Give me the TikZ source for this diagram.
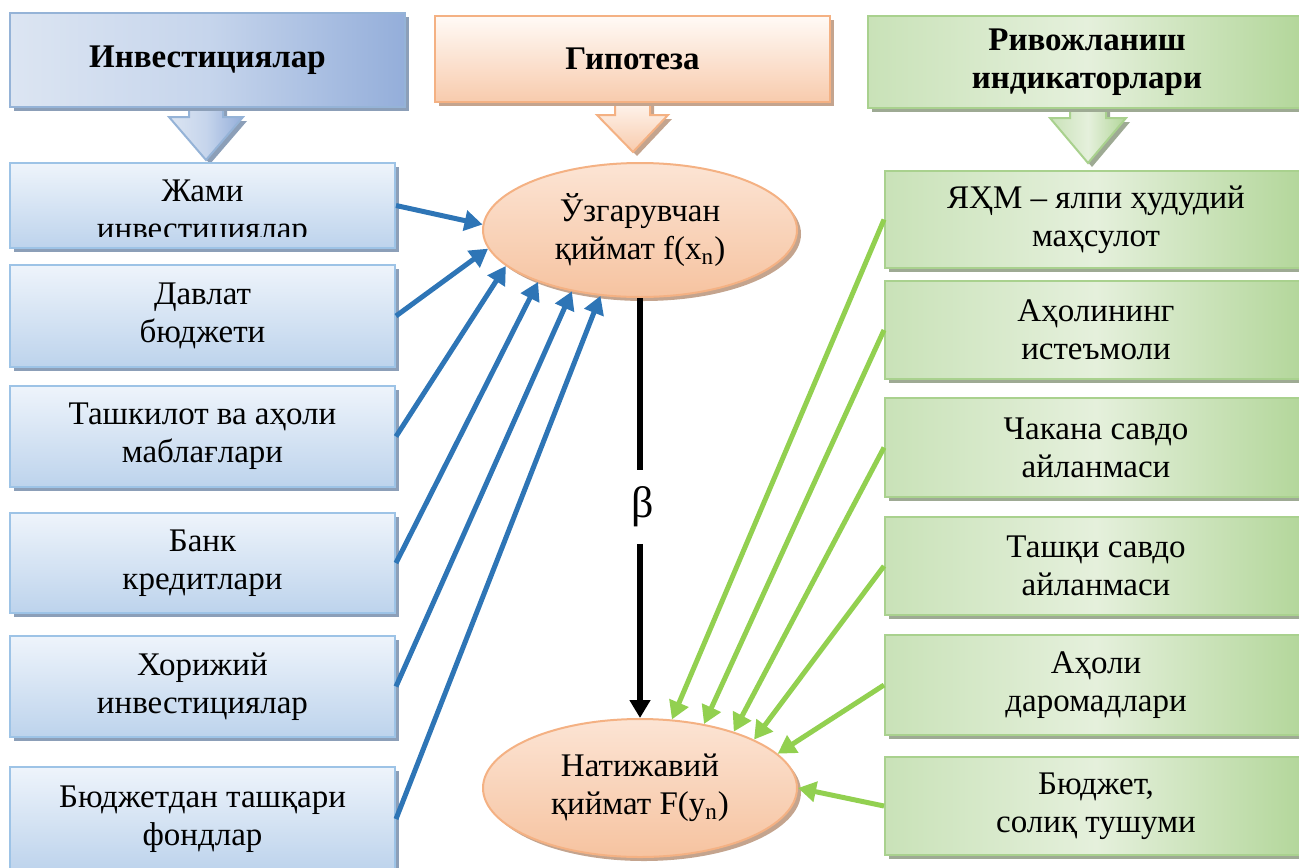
\documentclass[tikz,border=0pt]{standalone}
\usepackage{fontspec}
\setmainfont{Liberation Serif}
\usetikzlibrary{arrows.meta,shapes.geometric,shadows}
\definecolor{bArrow}{HTML}{2E75B6}
\definecolor{gArrow}{HTML}{92D050}
\definecolor{bBorder}{HTML}{9DC3E6}
\definecolor{bTop}{HTML}{EEF4FB}
\definecolor{bBot}{HTML}{BDD3EC}
\definecolor{bShadow}{HTML}{8C9FB8}
\definecolor{bhLeft}{HTML}{DCE5F2}
\definecolor{bhMid}{HTML}{C6D5EC}
\definecolor{bhRight}{HTML}{94AEDA}
\definecolor{bhBorder}{HTML}{95B3D7}
\definecolor{pBorder}{HTML}{F4B183}
\definecolor{pTop}{HTML}{FFFAF6}
\definecolor{pBot}{HTML}{F8CBAD}
\definecolor{eTop}{HTML}{FCE4D4}
\definecolor{eBot}{HTML}{F6C3A0}
\definecolor{pShadow}{HTML}{C4A48E}
\definecolor{gBorder}{HTML}{A9D18E}
\definecolor{gLeft}{HTML}{C9E2B8}
\definecolor{gMid}{HTML}{E5F0DC}
\definecolor{gRight}{HTML}{B2D699}
\definecolor{gShadow}{HTML}{9EAA94}
\newcommand\boxfont{\fontsize{16.5}{19}\selectfont}
\newcommand\headfont{\fontsize{16.5}{19}\selectfont\bfseries}
\begin{document}
\begin{tikzpicture}[x=0.5pt,y=-0.5pt,
  shd/.style={drop shadow={shadow xshift=2pt,shadow yshift=-2pt,opacity=1,fill=#1}},
  lbox/.style={rectangle,draw=bBorder,line width=1pt,top color=bTop,bottom color=bBot,minimum width=192.5pt,inner sep=0pt,align=center,font=\boxfont,shd=bShadow},
  rbox/.style={rectangle,draw=gBorder,line width=1pt,left color=gLeft,right color=gRight,middle color=gMid,minimum width=211pt,inner sep=0pt,align=center,font=\boxfont,shd=gShadow},
  ell/.style={ellipse,draw=pBorder,line width=1pt,top color=eTop,bottom color=eBot,minimum width=157pt,inner sep=0pt,align=center,font=\boxfont,shd=pShadow},
  barrow/.style={draw=bArrow,line width=2.5pt,-{Triangle[length=9pt,width=10pt]}},
  garrow/.style={draw=gArrow,line width=2.5pt,-{Triangle[length=9pt,width=10pt]}},
  harrowB/.style={draw=bhBorder,line width=1pt,left color=bhLeft,right color=bhRight,middle color=bhMid,shd=bShadow},
  harrowP/.style={draw=pBorder,line width=1pt,top color=pTop,bottom color=pBot,shd=pShadow},
  harrowG/.style={draw=gBorder,line width=1pt,left color=gLeft,right color=gRight,middle color=gMid,shd=gShadow},
]
\useasboundingbox (0,0) rectangle (1299,867);
\clip (0,0) rectangle (1299,867);

% header arrows
\path[harrowB] (189,100) -- (223,100) -- (223,117) -- (243,117) -- (206,160) -- (169,117) -- (189,117) -- cycle;
\path[harrowP] (615,95) -- (650,95) -- (650,115) -- (668,115) -- (633,152) -- (597,115) -- (615,115) -- cycle;
\path[harrowG] (1070,100) -- (1106,100) -- (1106,118) -- (1126,118) -- (1088,163) -- (1050,118) -- (1070,118) -- cycle;

% header boxes
\node[rectangle,draw=bhBorder,line width=1pt,left color=bhLeft,right color=bhRight,middle color=bhMid,shd=bShadow,minimum width=197.5pt,minimum height=47pt,inner sep=0pt,font=\headfont] (hB) at (207.5,60) {Инвестициялар};
\node[rectangle,draw=pBorder,line width=1pt,top color=pTop,bottom color=pBot,shd=pShadow,minimum width=197.5pt,minimum height=43pt,inner sep=0pt,font=\headfont] (hP) at (632.5,59) {Гипотеза};
\node[rectangle,draw=gBorder,line width=1pt,left color=gLeft,right color=gRight,middle color=gMid,shd=gShadow,minimum width=219pt,minimum height=46pt,inner sep=0pt,align=center,font=\headfont] (hG) at (1087,62) {Ривожланиш\\индикаторлари};

% left boxes
\node[lbox,minimum height=42.5pt] (l1) at (202.5,205.5) {};
\begin{scope}
\clip (10,163) rectangle (395,236);
\node[font=\boxfont,align=center,inner sep=0pt] (l1t) at (202.5,213) {Жами\\инвестициялар};
\end{scope}
\node[lbox,minimum height=51pt] (l2) at (202.5,316) {Давлат\\бюджети};
\node[lbox,minimum height=50.5pt] (l3) at (202.5,436.5) {Ташкилот ва аҳоли\\маблағлари};
\node[lbox,minimum height=50pt] (l4) at (202.5,563) {Банк\\кредитлари};
\node[lbox,minimum height=50.5pt] (l5) at (202.5,686.5) {Хорижий\\инвестициялар};
\node[lbox,minimum height=52pt] (l6) at (202.5,819) {Бюджетдан ташқари\\фондлар};

% right boxes
\node[rbox,minimum height=48.5pt] (r1) at (1096,219.5) {ЯҲМ – ялпи ҳудудий\\маҳсулот};
\node[rbox,minimum height=49pt] (r2) at (1096,330) {Аҳолининг\\истеъмоли};
\node[rbox,minimum height=49.5pt] (r3) at (1096,447.5) {Чакана савдо\\айланмаси};
\node[rbox,minimum height=49pt] (r4) at (1096,566) {Ташқи савдо\\айланмаси};
\node[rbox,minimum height=50pt] (r5) at (1096,685) {Аҳоли\\даромадлари};
\node[rbox,minimum height=49pt] (r6) at (1096,806) {Бюджет,\\солиқ тушуми};

% ellipses
\node[ell,minimum height=67pt] (top) at (640,230) {Ўзгарувчан\\қиймат f(x\textsubscript{n})};
\node[ell,minimum height=69pt] (bot) at (640,788) {Натижавий\\қиймат F(y\textsubscript{n})};

% beta
\node[font=\fontsize{22}{24}\selectfont,minimum height=36.5pt,inner sep=0pt] (beta) at (643,507) {β};
\draw[line width=3pt] (top.south) -- (beta.north -| top.south);
\draw[line width=3pt,-{Triangle[length=9pt,width=10pt]}] (beta.south -| bot.north) -- (bot.north);

% blue arrows
\draw[barrow] (l1.east) -- (top.178);
\draw[barrow] (l2.east) -- (top.187);
\draw[barrow] (l3.east) -- (top.195.5);
\draw[barrow] (l4.east) -- (top.207);
\draw[barrow] (l5.east) -- (top.222);
\draw[barrow] (l6.east) -- (top.239);

% green arrows
\draw[garrow] (r1.west) -- (bot.65);
\draw[garrow] (r2.west) -- (bot.45);
\draw[garrow] (r3.west) -- (bot.31);
\draw[garrow] (r4.west) -- (bot.23.5);
\draw[garrow] (r5.west) -- (bot.14);
\draw[garrow] (r6.west) -- (bot.0);
\end{tikzpicture}
\end{document}
